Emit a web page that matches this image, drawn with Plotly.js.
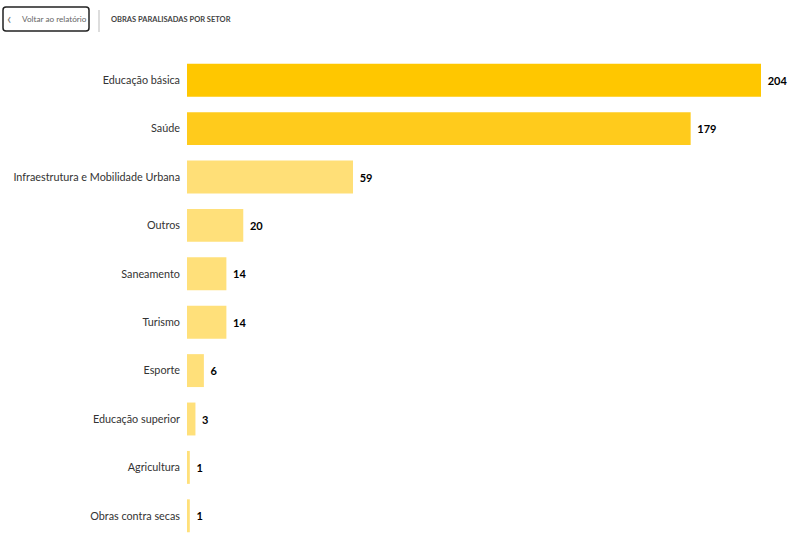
<!DOCTYPE html>
<html>
<head>
<meta charset="utf-8">
<script src="https://cdn.plot.ly/plotly-3.0.1.min.js"></script>
<style>
  html, body { margin: 0; padding: 0; background: #fff; }
  #chart { width: 800px; height: 550px; }
</style>
</head>
<body>
<div id="chart"></div>
<script>
// data
const setores = ['Educação básica', 'Saúde', 'Infraestrutura e Mobilidade Urbana', 'Outros',
  'Saneamento', 'Turismo', 'Esporte', 'Educação superior', 'Agricultura', 'Obras contra secas'];
const obras = [204, 179, 59, 20, 14, 14, 6, 3, 1, 1];
const cores = ['#FFC700', '#FFCB1C', '#FFDF77', '#FFE07A', '#FFE07A', '#FFE07A', '#FFE07A', '#FFE07A', '#FFE07A', '#FFE07A'];

const W = 800, H = 550;
const M = { l: 187, r: 39, t: 56, b: 10 };
const pw = W - M.l - M.r, ph = H - M.t - M.b;
// pixel -> paper helpers for header decorations
const px = x => (x - M.l) / pw;
const py = y => (H - M.b - y) / ph;

// rounded rectangle path in paper coords, given in pixels
function roundRect(x0, y0, x1, y1, r) {
  const X = px, Y = py;
  return 'M' + X(x0 + r) + ',' + Y(y0) +
    ' L' + X(x1 - r) + ',' + Y(y0) +
    ' Q' + X(x1) + ',' + Y(y0) + ' ' + X(x1) + ',' + Y(y0 + r) +
    ' L' + X(x1) + ',' + Y(y1 - r) +
    ' Q' + X(x1) + ',' + Y(y1) + ' ' + X(x1 - r) + ',' + Y(y1) +
    ' L' + X(x0 + r) + ',' + Y(y1) +
    ' Q' + X(x0) + ',' + Y(y1) + ' ' + X(x0) + ',' + Y(y1 - r) +
    ' L' + X(x0) + ',' + Y(y0 + r) +
    ' Q' + X(x0) + ',' + Y(y0) + ' ' + X(x0 + r) + ',' + Y(y0) + ' Z';
}

const font = '"Segoe UI", Lato, "DejaVu Sans", sans-serif';

var trace = {
  type: 'bar',
  orientation: 'h',
  y: setores,
  x: obras,
  marker: { color: cores },
  text: obras.map(v => '\u2004' + v),
  textposition: 'outside',
  cliponaxis: false,
  textfont: { family: font, size: 11, color: '#000', weight: 'bold' },
  hoverinfo: 'none'
};

var layout = {
  width: W,
  height: H,
  margin: M,
  paper_bgcolor: '#fff',
  plot_bgcolor: '#fff',
  showlegend: false,
  bargap: 0.32,
  font: { family: font, size: 11, color: '#333' },
  xaxis: {
    range: [0, 204],
    visible: false,
    fixedrange: true
  },
  yaxis: {
    type: 'category',
    autorange: 'reversed',
    showgrid: false,
    zeroline: false,
    showline: false,
    ticks: '',
    ticklabelstandoff: 6,
    tickfont: { family: font, size: 10.8, color: '#333' },
    fixedrange: true
  },
  shapes: [
    {
      type: 'path', xref: 'paper', yref: 'paper',
      path: roundRect(3, 7, 89, 31, 3),
      line: { color: '#222', width: 1.5 }, fillcolor: 'rgba(0,0,0,0)'
    },
    {
      type: 'line', xref: 'paper', yref: 'paper',
      x0: px(99), x1: px(99), y0: py(32), y1: py(10),
      line: { color: '#bbb', width: 1 }
    }
  ],
  annotations: [
    {
      xref: 'paper', yref: 'paper', x: px(9), y: py(18),
      xanchor: 'center', yanchor: 'middle', showarrow: false,
      text: '‹', font: { family: font, size: 16, color: '#777' }
    },
    {
      xref: 'paper', yref: 'paper', x: px(20), y: py(19),
      xanchor: 'left', yanchor: 'middle', showarrow: false,
      text: 'Voltar ao relatório', font: { family: font, size: 8.2, color: '#666' }
    },
    {
      xref: 'paper', yref: 'paper', x: px(109), y: py(19),
      xanchor: 'left', yanchor: 'middle', showarrow: false,
      text: '<b>OBRAS PARALISADAS POR SETOR</b>',
      font: { family: font, size: 7.5, color: '#444' }
    }
  ]
};

Plotly.newPlot('chart', [trace], layout, { displayModeBar: false, staticPlot: true });
</script>
</body>
</html>
